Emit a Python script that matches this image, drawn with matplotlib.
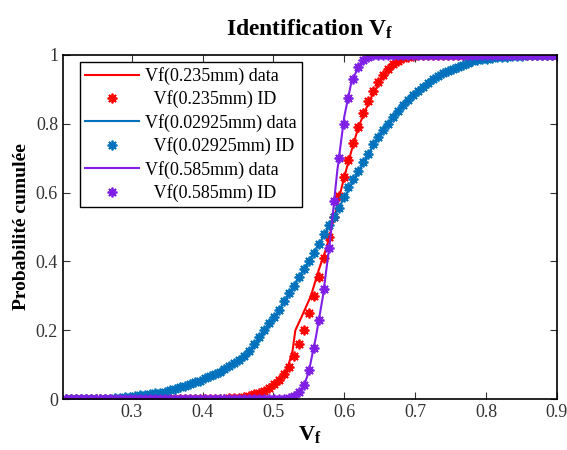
import numpy as np
import matplotlib
matplotlib.use("Agg")
from matplotlib import pyplot as plt

# sample positions of the identified (fitted) CDFs
vf_grid = [0.207, 0.214, 0.221, 0.228, 0.235, 0.242, 0.249, 0.256, 0.263, 0.270,
           0.277, 0.284, 0.291, 0.298, 0.305, 0.312, 0.319, 0.326, 0.333, 0.340,
           0.347, 0.354, 0.361, 0.368, 0.375, 0.382, 0.389, 0.396, 0.403, 0.410,
           0.417, 0.424, 0.431, 0.438, 0.445, 0.452, 0.459, 0.466, 0.473, 0.480,
           0.487, 0.494, 0.501, 0.508, 0.515, 0.522, 0.529, 0.536, 0.543, 0.550,
           0.557, 0.564, 0.571, 0.578, 0.585, 0.592, 0.599, 0.606, 0.613, 0.620,
           0.627, 0.634, 0.641, 0.648, 0.655, 0.662, 0.669, 0.676, 0.683, 0.690,
           0.697, 0.704, 0.711, 0.718, 0.725, 0.732, 0.739, 0.746, 0.753, 0.760,
           0.767, 0.774, 0.781, 0.788, 0.795, 0.802, 0.809, 0.816, 0.823, 0.830,
           0.837, 0.844, 0.851, 0.858, 0.865, 0.872, 0.879, 0.886, 0.893, 0.900]

id_red = [0, 0, 0, 0, 0, 0, 0, 0, 0, 0,
          0, 0, 0, 0, 0, 0, 0, 0, 0, 0,
          0, 0, 0, 0, 0, 0, 0, 0, 0, 0,
          0, 0, 0.001, 0.002, 0.003, 0.004, 0.006, 0.01, 0.014, 0.019,
          0.025, 0.033, 0.043, 0.055, 0.072, 0.094, 0.125, 0.16, 0.20, 0.25,
          0.30, 0.355, 0.41, 0.47, 0.53, 0.59, 0.645, 0.695, 0.745, 0.79,
          0.83, 0.865, 0.895, 0.92, 0.942, 0.96, 0.973, 0.983, 0.99, 0.994,
          0.997, 0.999, 1, 1, 1, 1, 1, 1, 1, 1,
          1, 1, 1, 1, 1, 1, 1, 1, 1, 1,
          1, 1, 1, 1, 1, 1, 1, 1, 1, 1]

id_blue = [0, 0, 0, 0, 0, 0, 0, 0, 0, 0.001,
           0.002, 0.003, 0.005, 0.007, 0.009, 0.011, 0.013, 0.015, 0.017, 0.019,
           0.022, 0.026, 0.030, 0.034, 0.039, 0.044, 0.049, 0.054, 0.060, 0.066,
           0.072, 0.079, 0.087, 0.095, 0.104, 0.113, 0.124, 0.14, 0.16, 0.18,
           0.20, 0.22, 0.24, 0.26, 0.285, 0.307, 0.33, 0.355, 0.378, 0.40,
           0.425, 0.45, 0.48, 0.505, 0.53, 0.556, 0.588, 0.615, 0.64, 0.662,
           0.688, 0.712, 0.74, 0.762, 0.782, 0.80, 0.82, 0.838, 0.855, 0.87,
           0.884, 0.896, 0.908, 0.919, 0.929, 0.938, 0.946, 0.953, 0.96, 0.966,
           0.972, 0.977, 0.981, 0.984, 0.987, 0.989, 0.991, 0.993, 0.994, 0.995,
           0.996, 0.997, 0.998, 0.999, 0.999, 1, 1, 1, 1, 1]

id_purple = [0, 0, 0, 0, 0, 0, 0, 0, 0, 0,
             0, 0, 0, 0, 0, 0, 0, 0, 0, 0,
             0, 0, 0, 0, 0, 0, 0, 0, 0, 0,
             0, 0, 0, 0, 0, 0, 0, 0, 0, 0,
             0, 0, 0, 0, 0, 0.002, 0.008, 0.02, 0.04, 0.085,
             0.15, 0.23, 0.32, 0.44, 0.575, 0.70, 0.80, 0.875, 0.93, 0.965,
             0.985, 0.995, 0.999, 1, 1, 1, 1, 1, 1, 1,
             1, 1, 1, 1, 1, 1, 1, 1, 1, 1,
             1, 1, 1, 1, 1, 1, 1, 1, 1, 1,
             1, 1, 1, 1, 1, 1, 1, 1, 1, 1]

# empirical CDFs (data)
red_x = [0.207, 0.40, 0.44, 0.46, 0.48, 0.49, 0.50, 0.51, 0.52, 0.527, 0.531, 0.54,
         0.553, 0.564, 0.575, 0.585, 0.60, 0.61, 0.62, 0.63, 0.64, 0.65, 0.66,
         0.67, 0.68, 0.69, 0.70, 0.90]
red_y = [0, 0, 0.003, 0.008, 0.018, 0.028, 0.04, 0.06, 0.09, 0.14, 0.20, 0.24,
         0.30, 0.375, 0.44, 0.52, 0.645, 0.72, 0.79, 0.84, 0.885, 0.92, 0.95,
         0.97, 0.985, 0.994, 1.0, 1.0]

blue_x = [0.207, 0.26, 0.30, 0.35, 0.40, 0.43, 0.46, 0.48, 0.50, 0.52, 0.55, 0.57,
          0.60, 0.62, 0.65, 0.68, 0.70, 0.72, 0.75, 0.78, 0.80, 0.83, 0.86, 0.88, 0.90]
blue_y = [0, 0, 0.006, 0.022, 0.055, 0.08, 0.12, 0.17, 0.23, 0.30, 0.40, 0.47,
          0.585, 0.66, 0.77, 0.85, 0.89, 0.92, 0.955, 0.978, 0.988, 0.995, 0.999, 1.0, 1.0]

purple_x = [0.207, 0.50, 0.52, 0.53, 0.54, 0.545, 0.55, 0.56, 0.57, 0.58, 0.59,
            0.60, 0.61, 0.62, 0.63, 0.64, 0.90]
purple_y = [0, 0, 0.003, 0.01, 0.03, 0.05, 0.08, 0.18, 0.30, 0.46, 0.66,
            0.82, 0.92, 0.965, 0.99, 1.0, 1.0]

plt.rcParams['font.family'] = ['Liberation Serif', 'DejaVu Serif']
plt.rcParams['mathtext.fontset'] = 'custom'
plt.rcParams['mathtext.rm'] = 'Liberation Serif'
plt.rcParams['mathtext.bf'] = 'Liberation Serif:bold'
plt.rcParams['mathtext.it'] = 'Liberation Serif:italic'

red = '#FF0000'
blue = '#0072BD'
purple = '#7F1FE6'
star = (8, 2, 0)

fig = plt.figure(figsize=(5.67, 4.5), dpi=100)
ax = fig.add_axes([0.111, 0.113, 0.871, 0.765])

ax.plot(red_x, red_y, '-', color=red, lw=1.5, label='Vf(0.235mm) data')
ax.plot(vf_grid, id_red, ls='none', marker=star, color=red, ms=7, mew=1.3,
        label='  Vf(0.235mm) ID')
ax.plot(blue_x, blue_y, '-', color=blue, lw=1.5, label='Vf(0.02925mm) data')
ax.plot(vf_grid, id_blue, ls='none', marker=star, color=blue, ms=7, mew=1.3,
        label='  Vf(0.02925mm) ID')
ax.plot(purple_x, purple_y, '-', color=purple, lw=1.5, label='Vf(0.585mm) data')
ax.plot(vf_grid, id_purple, ls='none', marker=star, color=purple, ms=7, mew=1.3,
        label='  Vf(0.585mm) ID')

ax.set_xlim(0.203, 0.9)
ax.set_ylim(0, 1)
ax.set_xticks([0.3, 0.4, 0.5, 0.6, 0.7, 0.8, 0.9])
ax.set_xticklabels(['0.3', '0.4', '0.5', '0.6', '0.7', '0.8', '0.9'])
ax.set_yticks([0, 0.2, 0.4, 0.6, 0.8, 1])
ax.set_yticklabels(['0', '0.2', '0.4', '0.6', '0.8', '1'])
ax.tick_params(direction='in', top=True, right=True, labelsize=13, length=5, colors='#333333')
for s in ax.spines.values():
    s.set_linewidth(1.2)

ax.set_title(r'$\mathbf{Identification\ V_f}$', fontsize=17, pad=14)
ax.set_xlabel(r'$\mathbf{V_f}$', fontsize=16, labelpad=2)
ax.set_ylabel('Probabilité cumulée', fontsize=14, fontweight='bold')

leg = ax.legend(loc='upper left', bbox_to_anchor=(0.034, 0.98), fontsize=13,
                frameon=True, fancybox=False, edgecolor='black', framealpha=1,
                borderpad=0.3, labelspacing=0.3, handlelength=3.0, handletextpad=0.3,
                borderaxespad=0)
leg.get_frame().set_linewidth(1.0)

fig.savefig('out.png', dpi=100)
